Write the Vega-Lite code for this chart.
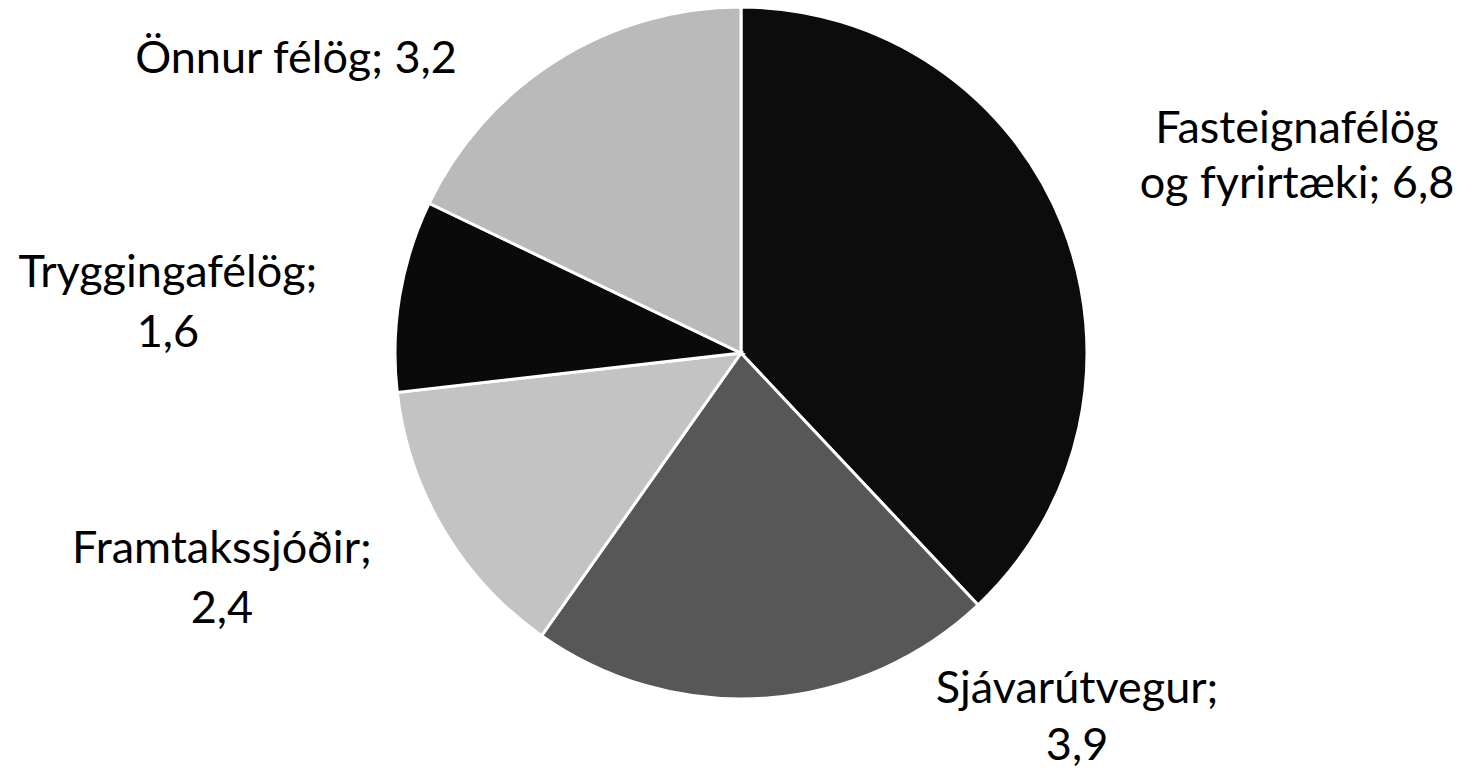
{
  "$schema": "https://vega.github.io/schema/vega-lite/v6.json",
  "width": 1444,
  "height": 706,
  "autosize": {"type": "none"},
  "padding": {"left": 19, "top": 0, "right": 0, "bottom": 67},
  "background": "white",
  "config": {"view": {"stroke": null}},
  "data": {
    "values": [
      {"cat": "Fasteignafélög og fyrirtæki", "label": "Fasteignafélög\nog fyrirtæki; 6,8", "value": 6.8, "rank": 1},
      {"cat": "Sjávarútvegur", "label": "Sjávarútvegur;\n3,9", "value": 3.9, "rank": 2},
      {"cat": "Framtakssjóðir", "label": "Framtakssjóðir;\n2,4", "value": 2.4, "rank": 3},
      {"cat": "Tryggingafélög", "label": "Tryggingafélög;\n1,6", "value": 1.6, "rank": 4},
      {"cat": "Önnur félög", "label": "Önnur félög; 3,2", "value": 3.2, "rank": 5}
    ]
  },
  "transform": [
    {"stack": "value", "groupby": [], "sort": [{"field": "rank", "order": "ascending"}], "as": ["v0", "v1"]},
    {"calculate": "(datum.v0 + datum.v1) / 2", "as": "mid"}
  ],
  "layer": [
    {
      "mark": {"type": "arc", "outerRadius": 346, "stroke": "white", "strokeWidth": 3},
      "encoding": {
        "theta": {"field": "v0", "type": "quantitative", "scale": {"domain": [0, 17.9], "zero": true, "nice": false, "range": [0, 6.283185307179586]}},
        "theta2": {"field": "v1"},
        "color": {
          "field": "cat",
          "type": "nominal",
          "legend": null,
          "scale": {
            "domain": ["Fasteignafélög og fyrirtæki", "Sjávarútvegur", "Framtakssjóðir", "Tryggingafélög", "Önnur félög"],
            "range": ["#0c0c0c", "#575757", "#c3c3c3", "#0a0a0a", "#bababa"]
          }
        }
      }
    },
    {
      "transform": [{"filter": "datum.rank == 1"}],
      "mark": {"type": "text", "radius": 450, "dx": 137.6, "dy": -44.2, "align": "center", "baseline": "alphabetic", "font": "Lato", "fontSize": 45, "lineBreak": "\n", "lineHeight": 55, "color": "black"},
      "encoding": {"theta": {"field": "mid", "type": "quantitative"}, "text": {"field": "label"}}
    },
    {
      "transform": [{"filter": "datum.rank == 2"}],
      "mark": {"type": "text", "radius": 450, "dx": 304.5, "dy": -98.9, "align": "center", "baseline": "alphabetic", "font": "Lato", "fontSize": 45, "lineBreak": "\n", "lineHeight": 57, "color": "black"},
      "encoding": {"theta": {"field": "mid", "type": "quantitative"}, "text": {"field": "label"}}
    },
    {
      "transform": [{"filter": "datum.rank == 3"}],
      "mark": {"type": "text", "radius": 450, "dx": -132, "dy": -19.5, "align": "center", "baseline": "alphabetic", "font": "Lato", "fontSize": 45, "lineBreak": "\n", "lineHeight": 60, "color": "black"},
      "encoding": {"theta": {"field": "mid", "type": "quantitative"}, "text": {"field": "label"}}
    },
    {
      "transform": [{"filter": "datum.rank == 4"}],
      "mark": {"type": "text", "radius": 450, "dx": -129.3, "dy": 8.7, "align": "center", "baseline": "alphabetic", "font": "Lato", "fontSize": 45, "lineBreak": "\n", "lineHeight": 60, "color": "black"},
      "encoding": {"theta": {"field": "mid", "type": "quantitative"}, "text": {"field": "label"}}
    },
    {
      "transform": [{"filter": "datum.rank == 5"}],
      "mark": {"type": "text", "radius": 450, "dx": -205.3, "dy": 100.9, "align": "center", "baseline": "alphabetic", "font": "Lato", "fontSize": 45, "lineBreak": "\n", "lineHeight": 55, "color": "black"},
      "encoding": {"theta": {"field": "mid", "type": "quantitative"}, "text": {"field": "label"}}
    }
  ]
}
